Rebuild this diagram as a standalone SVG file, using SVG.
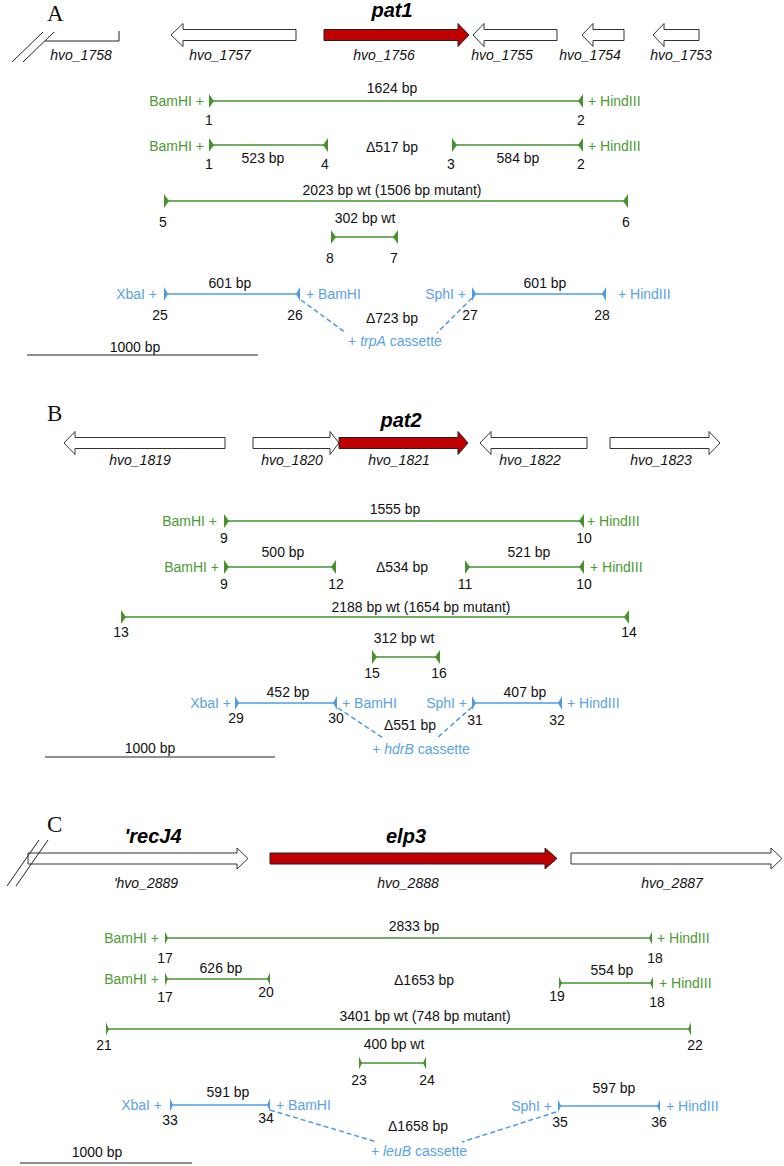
<svg xmlns="http://www.w3.org/2000/svg" width="784" height="1166" viewBox="0 0 784 1166">
<style>
text{font-family:"Liberation Sans",Arial,sans-serif;font-size:14px;fill:#111}
.m{text-anchor:middle}.e{text-anchor:end}
.i{font-style:italic}
.gn{font-weight:bold;font-style:italic;font-size:20px;fill:#000}
.pn{font-family:"Liberation Serif","Times New Roman",serif;font-size:23px;fill:#111}
.tg{fill:#4b9a33}.tb{fill:#5aa2e8}
.w{fill:#fff;stroke:#333;stroke-width:1}
.r{fill:#c00000;stroke:#222;stroke-width:1}
.k{stroke:#222;stroke-width:1;fill:none}
.gl{stroke:#45922f;stroke-width:1.5;fill:none;marker-start:url(#gS);marker-end:url(#gE)}
.gc{stroke:#45922f;stroke-width:1.5;fill:none;marker-start:url(#gS2);marker-end:url(#gE2)}
.bl{stroke:#4d9be6;stroke-width:1.5;fill:none;marker-start:url(#bS);marker-end:url(#bE)}
.bc{stroke:#4d9be6;stroke-width:1.5;fill:none;marker-start:url(#bS2);marker-end:url(#bE2)}
.bd{stroke:#4d9be6;stroke-width:1.5;fill:none;stroke-dasharray:5,3}
.sb{stroke:#222;stroke-width:1.2}
</style>
<defs>
<marker id="gS" markerUnits="userSpaceOnUse" viewBox="-1 -8 8 16" markerWidth="8" markerHeight="16" refX="0" refY="0" orient="auto"><path d="M0,-7 L0,7 L5,0 Z" fill="#45922f"/></marker>
<marker id="gE" markerUnits="userSpaceOnUse" viewBox="-7 -8 8 16" markerWidth="8" markerHeight="16" refX="0" refY="0" orient="auto"><path d="M0,-7 L0,7 L-5,0 Z" fill="#45922f"/></marker>
<marker id="gS2" markerUnits="userSpaceOnUse" viewBox="-1 -8 8 16" markerWidth="8" markerHeight="16" refX="0" refY="0" orient="auto"><path d="M0,-6.5 L0,6.5 L3,0 Z" fill="#45922f"/></marker>
<marker id="gE2" markerUnits="userSpaceOnUse" viewBox="-7 -8 8 16" markerWidth="8" markerHeight="16" refX="0" refY="0" orient="auto"><path d="M0,-6.5 L0,6.5 L-3,0 Z" fill="#45922f"/></marker>
<marker id="bS" markerUnits="userSpaceOnUse" viewBox="-1 -8 8 16" markerWidth="8" markerHeight="16" refX="0" refY="0" orient="auto"><path d="M0,-7 L0,7 L4,0 Z" fill="#4d9be6"/></marker>
<marker id="bE" markerUnits="userSpaceOnUse" viewBox="-7 -8 8 16" markerWidth="8" markerHeight="16" refX="0" refY="0" orient="auto"><path d="M0,-7 L0,7 L-4,0 Z" fill="#4d9be6"/></marker>
<marker id="bS2" markerUnits="userSpaceOnUse" viewBox="-1 -8 8 16" markerWidth="8" markerHeight="16" refX="0" refY="0" orient="auto"><path d="M0,-6.5 L0,6.5 L3,0 Z" fill="#4d9be6"/></marker>
<marker id="bE2" markerUnits="userSpaceOnUse" viewBox="-7 -8 8 16" markerWidth="8" markerHeight="16" refX="0" refY="0" orient="auto"><path d="M0,-6.5 L0,6.5 L-3,0 Z" fill="#4d9be6"/></marker>
</defs>

<!-- ===== Panel A ===== -->
<g id="panelA-label"><text class="pn" x="47" y="21">A</text></g>
<g id="hvo_1758">
<line class="k" x1="12" y1="62" x2="43" y2="32"/><line class="k" x1="23" y1="62" x2="54" y2="32"/>
<polyline class="k" points="45,41 119,41 119,31"/>
<text class="i m" x="81" y="60">hvo_1758</text></g>
<g id="hvo_1757"><path class="w" d="M171,35 L183,23.5 L183,29.5 L296,29.5 L296,40.5 L183,40.5 L183,46.5 Z"/><text class="i m" x="220" y="60">hvo_1757</text></g>
<g id="hvo_1756"><path class="r" d="M324,29.5 L458,29.5 L458,23.5 L469,35 L458,46.5 L458,40.5 L324,40.5 Z"/><text class="gn m" x="392" y="17">pat1</text><text class="i m" x="384" y="60">hvo_1756</text></g>
<g id="hvo_1755"><path class="w" d="M473,35 L484,23.5 L484,29.5 L557,29.5 L557,40.5 L484,40.5 L484,46.5 Z"/><text class="i m" x="502" y="60">hvo_1755</text></g>
<g id="hvo_1754"><path class="w" d="M582,35 L593,23.5 L593,29.5 L624,29.5 L624,40.5 L593,40.5 L593,46.5 Z"/><text class="i m" x="590" y="60">hvo_1754</text></g>
<g id="hvo_1753"><path class="w" d="M653,35 L664,23.5 L664,29.5 L699,29.5 L699,40.5 L664,40.5 L664,46.5 Z"/><text class="i m" x="681" y="60">hvo_1753</text></g>

<g id="connectorsA">
<line class="gl" x1="209" y1="101" x2="583" y2="101"/>
<line class="gl" x1="209" y1="145" x2="328" y2="145"/>
<line class="gl" x1="452" y1="145" x2="583" y2="145"/>
<line class="gl" x1="164" y1="201" x2="628" y2="201"/>
<line class="gl" x1="331" y1="237" x2="398" y2="237"/>
<line class="bl" x1="164" y1="294" x2="300" y2="294"/>
<line class="bl" x1="472" y1="294" x2="606" y2="294"/>
<line class="bd" x1="301" y1="300" x2="346" y2="333"/>
<line class="bd" x1="472" y1="298" x2="437" y2="333"/>
</g>
<g id="primersA">
<text class="tg e" x="204" y="106">BamHI +</text><text class="tg" x="588" y="106">+ HindIII</text>
<text class="m" x="392" y="93">1624 bp</text>
<text class="m" x="209" y="125">1</text><text class="m" x="581" y="125">2</text>
<text class="tg e" x="204" y="151">BamHI +</text><text class="tg" x="588" y="151">+ HindIII</text>
<text class="m" x="263" y="163">523 bp</text><text class="m" x="392" y="152">Δ517 bp</text><text class="m" x="518" y="163">584 bp</text>
<text class="m" x="209" y="169">1</text><text class="m" x="325" y="169">4</text><text class="m" x="451" y="169">3</text><text class="m" x="581" y="169">2</text>
<text class="m" x="392" y="195">2023 bp wt (1506 bp mutant)</text>
<text class="m" x="163" y="227">5</text><text class="m" x="626" y="227">6</text>
<text class="m" x="365" y="223">302 bp wt</text>
<text class="m" x="330" y="263">8</text><text class="m" x="394" y="263">7</text>
<text class="tb e" x="157" y="299">XbaI +</text><text class="tb" x="306" y="299">+ BamHI</text>
<text class="tb e" x="466" y="299">SphI +</text><text class="tb" x="618" y="299">+ HindIII</text>
<text class="m" x="230" y="288">601 bp</text><text class="m" x="545" y="288">601 bp</text>
<text class="m" x="160" y="320">25</text><text class="m" x="295" y="320">26</text><text class="m" x="470" y="320">27</text><text class="m" x="602" y="320">28</text>
<text class="m" x="392" y="323">Δ723 bp</text>
<text class="tb m" x="395" y="346">+ <tspan font-style="italic">trpA</tspan> cassette</text>
</g>
<g id="scaleA"><line class="sb" x1="27" y1="355" x2="258" y2="355"/><text class="m" x="135" y="352">1000 bp</text></g>

<!-- ===== Panel B ===== -->
<g id="panelB-label"><text class="pn" x="47" y="421">B</text></g>
<g id="hvo_1819"><path class="w" d="M64,443 L75,431.5 L75,437.5 L225,437.5 L225,448.5 L75,448.5 L75,454.5 Z"/><text class="i m" x="140" y="465">hvo_1819</text></g>
<g id="hvo_1820"><path class="w" d="M253,437.5 L330,437.5 L330,431.5 L339,443 L330,454.5 L330,448.5 L253,448.5 Z"/><text class="i m" x="292" y="465">hvo_1820</text></g>
<g id="hvo_1821"><path class="r" d="M339,437.5 L458,437.5 L458,431.5 L468,443 L458,454.5 L458,448.5 L339,448.5 Z"/><text class="gn m" x="401" y="427">pat2</text><text class="i m" x="399" y="465">hvo_1821</text></g>
<g id="hvo_1822"><path class="w" d="M480,443 L491,431.5 L491,437.5 L587,437.5 L587,448.5 L491,448.5 L491,454.5 Z"/><text class="i m" x="530" y="465">hvo_1822</text></g>
<g id="hvo_1823"><path class="w" d="M610,437.5 L709,437.5 L709,431.5 L720,443 L709,454.5 L709,448.5 L610,448.5 Z"/><text class="i m" x="661" y="465">hvo_1823</text></g>

<g id="connectorsB">
<line class="gl" x1="224" y1="521" x2="584" y2="521"/>
<line class="gl" x1="224" y1="567" x2="336" y2="567"/>
<line class="gl" x1="465" y1="567" x2="584" y2="567"/>
<line class="gl" x1="121" y1="617" x2="629" y2="617"/>
<line class="gl" x1="372" y1="657" x2="440" y2="657"/>
<line class="bl" x1="235" y1="703" x2="337" y2="703"/>
<line class="bl" x1="472" y1="703" x2="562" y2="703"/>
<line class="bd" x1="338" y1="708" x2="383" y2="738"/>
<line class="bd" x1="472" y1="707" x2="437" y2="738"/>
</g>
<g id="primersB">
<text class="tg e" x="217" y="526">BamHI +</text><text class="tg" x="587" y="526">+ HindIII</text>
<text class="m" x="395" y="514">1555 bp</text>
<text class="m" x="224" y="543">9</text><text class="m" x="584" y="543">10</text>
<text class="tg e" x="219" y="572">BamHI +</text><text class="tg" x="590" y="572">+ HindIII</text>
<text class="m" x="283" y="557">500 bp</text><text class="m" x="402" y="572">Δ534 bp</text><text class="m" x="529" y="557">521 bp</text>
<text class="m" x="224" y="589">9</text><text class="m" x="336" y="589">12</text><text class="m" x="465" y="589">11</text><text class="m" x="584" y="589">10</text>
<text class="m" x="421" y="612">2188 bp wt (1654 bp mutant)</text>
<text class="m" x="121" y="637">13</text><text class="m" x="629" y="637">14</text>
<text class="m" x="404" y="643">312 bp wt</text>
<text class="m" x="372" y="678">15</text><text class="m" x="439" y="678">16</text>
<text class="tb e" x="231" y="708">XbaI +</text><text class="tb" x="342" y="708">+ BamHI</text>
<text class="tb e" x="467" y="708">SphI +</text><text class="tb" x="567" y="708">+ HindIII</text>
<text class="m" x="288" y="697">452 bp</text><text class="m" x="525" y="697">407 bp</text>
<text class="m" x="236" y="723">29</text><text class="m" x="336" y="723">30</text><text class="m" x="475" y="725">31</text><text class="m" x="557" y="725">32</text>
<text class="m" x="410" y="730">Δ551 bp</text>
<text class="tb m" x="421" y="754">+ <tspan font-style="italic">hdrB</tspan> cassette</text>
</g>
<g id="scaleB"><line class="sb" x1="45" y1="757" x2="275" y2="757"/><text class="m" x="150" y="753">1000 bp</text></g>

<!-- ===== Panel C ===== -->
<g id="panelC-label"><text class="pn" x="47" y="832">C</text></g>
<g id="recJ4"><path class="w" d="M28,853 L237,853 L237,848 L248,858.5 L237,869 L237,864 L28,864 Z"/>
<line class="k" x1="7" y1="886" x2="39" y2="840"/><line class="k" x1="16" y1="886" x2="48" y2="840"/>
<text class="gn m" x="153" y="843">'recJ4</text><text class="i m" x="146" y="888">'hvo_2889</text></g>
<g id="hvo_2888"><path class="r" d="M270,853 L545,853 L545,848 L557,858.5 L545,869 L545,864 L270,864 Z"/><text class="gn m" x="406" y="843">elp3</text><text class="i m" x="408" y="888">hvo_2888</text></g>
<g id="hvo_2887"><path class="w" d="M571,853 L771,853 L771,848 L782,858.5 L771,869 L771,864 L571,864 Z"/><text class="i m" x="672" y="888">hvo_2887</text></g>

<g id="connectorsC">
<line class="gc" x1="165" y1="938" x2="652" y2="938"/>
<line class="gc" x1="165" y1="979" x2="270" y2="979"/>
<line class="gc" x1="559" y1="983" x2="653" y2="983"/>
<line class="gc" x1="106" y1="1029" x2="691" y2="1029"/>
<line class="gc" x1="359" y1="1063" x2="426" y2="1063"/>
<line class="bc" x1="170" y1="1105" x2="270" y2="1105"/>
<line class="bc" x1="558" y1="1106" x2="660" y2="1106"/>
<line class="bd" x1="270" y1="1110" x2="377" y2="1142"/>
<line class="bd" x1="556" y1="1112" x2="462" y2="1142"/>
</g>
<g id="primersC">
<text class="tg e" x="159" y="943">BamHI +</text><text class="tg" x="657" y="943">+ HindIII</text>
<text class="m" x="414" y="931">2833 bp</text>
<text class="m" x="165" y="963">17</text><text class="m" x="655" y="963">18</text>
<text class="tg e" x="159" y="984">BamHI +</text><text class="tg" x="659" y="988">+ HindIII</text>
<text class="m" x="221" y="973">626 bp</text><text class="m" x="424" y="985">Δ1653 bp</text><text class="m" x="612" y="975">554 bp</text>
<text class="m" x="165" y="1002">17</text><text class="m" x="266" y="997">20</text><text class="m" x="557" y="1001">19</text><text class="m" x="657" y="1007">18</text>
<text class="m" x="425" y="1021">3401 bp wt (748 bp mutant)</text>
<text class="m" x="104" y="1050">21</text><text class="m" x="695" y="1050">22</text>
<text class="m" x="394" y="1049">400 bp wt</text>
<text class="m" x="359" y="1085">23</text><text class="m" x="427" y="1085">24</text>
<text class="tb e" x="162" y="1110">XbaI +</text><text class="tb" x="276" y="1110">+ BamHI</text>
<text class="tb e" x="552" y="1111">SphI +</text><text class="tb" x="666" y="1111">+ HindIII</text>
<text class="m" x="228" y="1097">591 bp</text><text class="m" x="614" y="1093">597 bp</text>
<text class="m" x="170" y="1125">33</text><text class="m" x="266" y="1123">34</text><text class="m" x="560" y="1127">35</text><text class="m" x="659" y="1127">36</text>
<text class="m" x="418" y="1131">Δ1658 bp</text>
<text class="tb m" x="419" y="1156">+ <tspan font-style="italic">leuB</tspan> cassette</text>
</g>
<g id="scaleC"><line class="sb" x1="20" y1="1163" x2="192" y2="1163"/><text class="m" x="97" y="1157">1000 bp</text></g>
</svg>
